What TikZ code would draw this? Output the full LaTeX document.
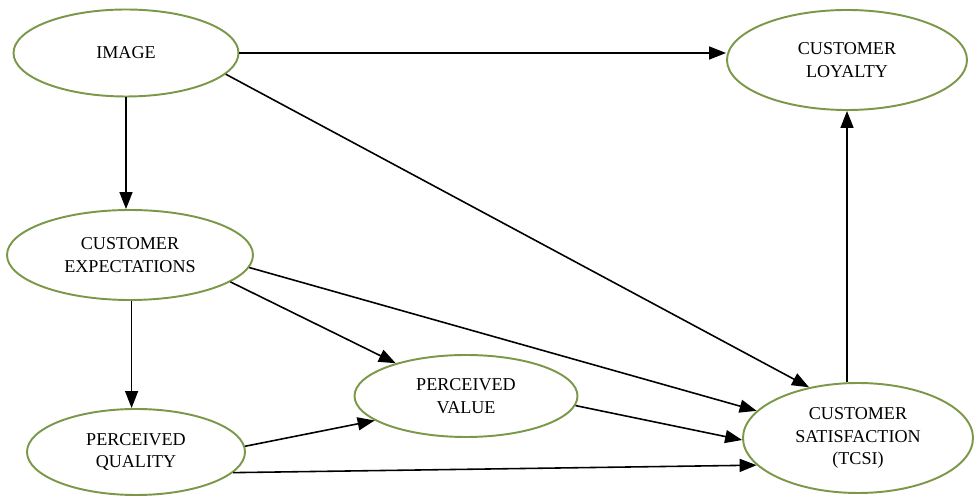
\documentclass[tikz,border=0pt]{standalone}
\usepackage{fontspec}
\setmainfont{Liberation Serif}
\usetikzlibrary{shapes.geometric,arrows.meta}
\definecolor{ovalgreen}{RGB}{122,152,72}
\begin{document}
\begin{tikzpicture}[
		oval/.style={ellipse, draw=ovalgreen, line width=1.1pt, align=center, inner sep=0pt, font=\fontsize{10.3}{12.8}\selectfont},
		link/.style={line width=0.9pt, -{Triangle[length=0.34cm, width=0.26cm]}}]
		\useasboundingbox (0,0) rectangle (19.54,-9.94);
		\node[oval, minimum width=4.5cm, minimum height=1.74cm] (image) at (2.52,-1.06) {IMAGE};
		\node[oval, minimum width=4.8cm, minimum height=2cm] (loyalty) at (16.94,-1.2) {CUSTOMER\\LOYALTY};
		\node[oval, minimum width=4.92cm, minimum height=1.8cm] (expect) at (2.6,-5.1) {CUSTOMER\\EXPECTATIONS};
		\node[oval, minimum width=4.36cm, minimum height=1.72cm] (quality) at (2.72,-9.04) {PERCEIVED\\QUALITY};
		\node[oval, minimum width=4.46cm, minimum height=1.64cm] (value) at (9.32,-7.92) {PERCEIVED\\VALUE};
		\node[oval, minimum width=4.6cm, minimum height=2.2cm] (satisf) at (17.16,-8.76) {CUSTOMER\\SATISFACTION\\(TCSI)};
		\draw[link] (image.east) -- (image.east -| loyalty.west);
		\draw[link] (image.-12) -- (satisf.134);
		\draw[link] (image.south) -- (image.south |- expect.north);
		\draw[link] (expect.-88) -- (expect.-88 |- quality.north);
		\draw[link] (expect.-15) -- (value.155);
		\draw[link] (expect.-6) -- (satisf.165);
		\draw[link] (quality.3) -- (value.195);
		\draw[link] (quality.-12) -- (satisf.195);
		\draw[link] (value.-5) -- (satisf.181);
		\draw[link] (loyalty.south |- satisf.north) -- (loyalty.south);
	\end{tikzpicture}
\end{document}
